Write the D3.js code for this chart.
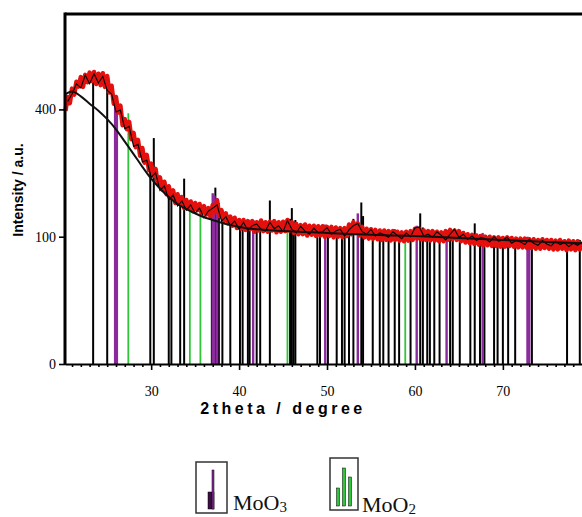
<!DOCTYPE html>
<html><head><meta charset="utf-8">
<script src="https://cdn.jsdelivr.net/npm/d3@7"></script>
<style>body{margin:0;background:#fff}svg{display:block}</style>
</head><body><svg id="c" width="582" height="517"></svg>
<script>
// ---- data ----
const xTicks = [30, 40, 50, 60, 70];
const xMinorTicks = [21,22,23,24,25,26,27,28,29,31,32,33,34,35,36,37,38,39,41,42,43,44,45,46,47,48,49,51,52,53,54,55,56,57,58,59,61,62,63,64,65,66,67,68,69,71,72,73,74,75,76,77,78];
const yTicks = [0, 100, 400];

// measured pattern (red), 0.25 deg steps from 20.25
const redStart = 20.25, redStep = 0.25;
const redIntensity = [
395,440,420,468, 448,492,475,508, 474,516,490,524, 494,526,484,520, 480,522,474,512,
455,478,418,440, 390,412,352,370, 340,362,312,330, 290,310,268,288, 250,270,232,248,
218,235,200,215, 188,205,178,195, 170,186,160,178, 158,172,150,166, 150,163,144,160,
146,158,140,154, 138,150,134,156, 142,165,135,146, 126,140,122,134, 118,132,114,128,
113,128,111,126, 112,126,108,124, 110,127,109,124, 108,125,110,126, 107,124,108,125,
109,128,110,124, 106,121,104,119, 104,120,102,118, 103,118,101,117, 102,117,100,116,
101,116,99,115, 100,114,99,114, 101,120,104,124, 106,122,102,116, 99,113,97,112,
97,111,96,110, 95,110,95,109, 94,109,95,108, 94,107,93,108, 94,109,95,113,
97,113,96,110, 95,109,94,109, 94,108,93,107, 93,109,95,111, 96,110,95,109,
93,106,91,104, 90,103,89,102, 88,101,87,100, 87,100,86,99, 86,99,85,98,
85,99,86,98, 85,97,84,97, 84,97,83,96, 83,96,82,95, 82,96,83,95,
82,95,81,94, 81,95,82,93, 80,94,81,93, 80,93,81,92
];

// black data overlay, 0.5 deg steps from 20.5
const blackStart = 20.5, blackStep = 0.5;
const blackIntensity = [
425,450,485,470,515,485,520,488,510,462,
450,392,398,342,348,292,298,252,256,215,
226,186,196,166,176,154,164,146,156,140,
150,132,144,150,156,126,134,118,126,112,
124,110,118,121,112,109,124,113,118,108,
127,112,106,117,109,104,114,106,108,115,
104,109,112,101,111,118,122,108,104,112,
101,106,103,99,108,102,97,106,100,114,
116,101,104,99,108,102,95,104,112,99,
104,96,101,94,99,97,92,100,93,95,
99,90,94,92,88,96,90,87,94,89,
86,93,88,91,85,90,87,92
];

// smooth background fit
const fitTheta = [20.2,21,22,23,24,25,26,27,28,29,30,31,32,33,34,35,36,37,38,39,40,42,45,50,55,60,65,70,75,79];
const fitIntensity = [448,458,442,418,396,370,340,305,272,240,212,190,172,158,148,140,133,128,123,119,116,112,109,106,103,101,98,95,92,90];

// reference stick patterns [2theta, height]
const refPeaks = [[23.4,505],[25.0,512],[29.9,240],[30.3,315],[32.0,190],[32.3,180],[33.3,175],[33.75,212],[36.9,150],[37.3,192],[37.7,160],[38.1,140],[39.0,136],[40.1,130],[40.4,128],[41.0,126],[41.2,125],[42.0,124],[42.4,128],[43.5,165],[45.8,130],[46.0,150],[46.2,125],[46.4,128],[48.9,118],[49.2,115],[50.1,116],[51.1,113],[51.7,112],[52.0,114],[52.5,118],[53.0,130],[53.9,161],[54.1,135],[55.2,112],[56.0,110],[56.4,110],[57.0,108],[57.7,112],[58.2,105],[59.5,104],[60.6,140],[60.9,115],[61.4,108],[61.7,108],[62.2,106],[62.8,106],[64.0,108],[64.3,110],[65.1,108],[66.3,104],[66.8,122],[67.4,104],[67.9,103],[69.0,100],[69.4,100],[70.0,100],[70.6,98],[71.4,97],[73.3,96],[77.3,92],[78.75,95]];
const moo3Peaks = [[25.9,410],[26.1,400],[37.0,180],[37.2,175],[37.5,170],[41.6,128],[49.8,120],[53.5,140],[60.2,118],[63.6,108],[67.7,106],[72.8,100],[73.0,98]];
const moo2Peaks = [[27.4,388],[34.4,150],[35.6,145],[45.5,125],[58.9,106]];

// ---- drawing ----
const svg = d3.select("#c");
const x = d3.scaleLinear().domain([20.2, 79]).range([65, 582]);
const y = d3.scaleSqrt().domain([0, 756]).range([364, 14]);

const sticks = svg.append("g");
function drawSticks(data, color, w) {
  sticks.selectAll(null).data(data).enter().append("line")
    .attr("x1", d => x(d[0])).attr("x2", d => x(d[0]))
    .attr("y1", y(0)).attr("y2", d => y(d[1]))
    .attr("stroke", color).attr("stroke-width", w);
}
drawSticks(refPeaks, "#000", 2);
drawSticks(moo3Peaks, "#8a2a9c", 2.4);
drawSticks(moo2Peaks, "#2fc43a", 1.8);

const redData = redIntensity.map((v, i) => [redStart + i * redStep, v]);
const blackData = blackIntensity.map((v, i) => [blackStart + i * blackStep, v]);
const fitData = fitTheta.map((t, i) => [t, fitIntensity[i]]);
const line = d3.line().x(d => x(d[0])).y(d => y(d[1]));

svg.append("path").datum(redData).attr("d", line).attr("fill", "none")
  .attr("stroke", "#e3100e").attr("stroke-width", 4.5).attr("stroke-linejoin", "round");
svg.append("path").datum(blackData).attr("d", line).attr("fill", "none")
  .attr("stroke", "#000").attr("stroke-width", 1.1);
svg.append("path").datum(fitData).attr("d", line.curve(d3.curveMonotoneX)).attr("fill", "none")
  .attr("stroke", "#111").attr("stroke-width", 2);

// axes
const xAxis = svg.append("g").attr("transform", `translate(0,${y(0)})`)
  .call(d3.axisBottom(x).tickValues(xTicks).tickSize(6).tickSizeOuter(0).tickPadding(16));
const xMinor = svg.append("g").attr("transform", `translate(0,${y(0)})`)
  .call(d3.axisBottom(x).tickValues(xMinorTicks).tickSize(3).tickSizeOuter(0).tickFormat(""));
const yAxis = svg.append("g").attr("transform", `translate(65,0)`)
  .call(d3.axisLeft(y).tickValues(yTicks).tickSize(6).tickSizeOuter(0).tickPadding(3));
[xAxis, xMinor, yAxis].forEach(g => {
  g.selectAll("line").attr("stroke", "#000").attr("stroke-width", 1.6);
  g.selectAll("text").attr("font-family", "'Liberation Serif', serif").attr("font-size", 14).attr("fill", "#000");
});
xMinor.select(".domain").remove();
yAxis.select(".domain").remove();
xAxis.select(".domain").attr("stroke", "#000").attr("stroke-width", 2.2);

// frame top / left
svg.append("line").attr("x1", 65).attr("x2", 582).attr("y1", 14).attr("y2", 14)
  .attr("stroke", "#000").attr("stroke-width", 3);
svg.append("line").attr("x1", 65).attr("x2", 65).attr("y1", 12.5).attr("y2", 365)
  .attr("stroke", "#000").attr("stroke-width", 3);

// axis titles
svg.append("text").attr("x", 283).attr("y", 414).attr("text-anchor", "middle")
  .attr("font-family", "'Liberation Sans', Arial, sans-serif").attr("font-weight", "bold")
  .attr("font-size", 16).attr("letter-spacing", 3.5).text("2theta / degree");
svg.append("text").attr("transform", "translate(23,190) rotate(-90)").attr("text-anchor", "middle")
  .attr("font-family", "'Liberation Sans', Arial, sans-serif").attr("font-weight", "bold")
  .attr("font-size", 14).text("Intensity / a.u.");

// legend
const legend = [
  {label: "MoO", sub: "3", bx: 196, by: 462, bw: 31, bh: 51, tx: 233, ty: 510,
   sticks: [[211, 492, 6, "#3a1040"], [213, 470, 2, "#8a2a9c"]]},
  {label: "MoO", sub: "2", bx: 330, by: 458, bw: 28, bh: 52, tx: 362, ty: 512,
   sticks: [[338, 488, 3, "#2fc43a"], [344, 468, 3, "#2fc43a"], [350, 477, 3, "#2fc43a"]]}
];
legend.forEach(l => {
  const g = svg.append("g");
  g.append("rect").attr("x", l.bx).attr("y", l.by).attr("width", l.bw).attr("height", l.bh)
    .attr("fill", "#fff").attr("stroke", "#333").attr("stroke-width", 1.5);
  l.sticks.forEach(s => {
    g.append("rect").attr("x", s[0] - s[2] / 2).attr("y", s[1]).attr("width", s[2])
      .attr("height", l.by + l.bh - 4 - s[1]).attr("fill", s[3]).attr("stroke", "#000").attr("stroke-width", 0.5);
  });
  const t = g.append("text").attr("x", l.tx).attr("y", l.ty)
    .attr("font-family", "'Liberation Serif', 'Times New Roman', serif").attr("font-size", 22).attr("fill", "#111");
  t.append("tspan").text(l.label);
  t.append("tspan").attr("font-size", 15).attr("dy", 2).text(l.sub);
});
</script>
</body></html>
